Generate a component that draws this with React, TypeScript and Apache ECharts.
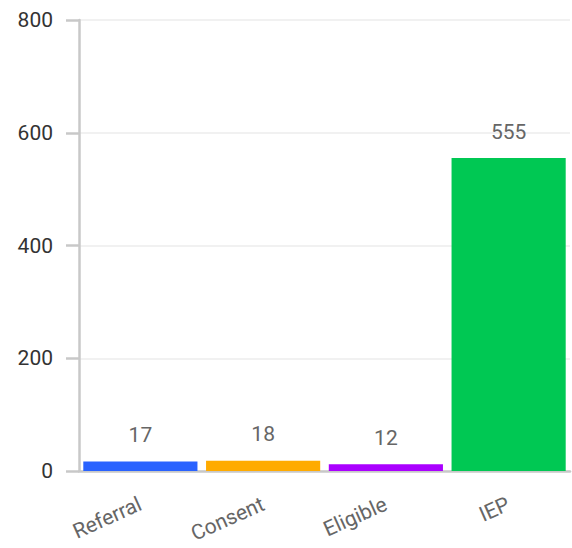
import React, { useEffect, useRef } from "react";
import * as echarts from "echarts";

const categories = ["Referral", "Consent", "Eligible", "IEP"];
const values = [17, 18, 12, 555];
const colors = ["#2962ff", "#ffab00", "#aa00ff", "#00c853"];
const yTicks = [0, 200, 400, 600, 800];

export default function App() {
  const ref = useRef<HTMLDivElement>(null);
  useEffect(() => {
    if (!ref.current) return;
    const chart = echarts.init(ref.current, undefined, { renderer: "svg" });
    chart.setOption({
      animation: false,
      grid: {
        left: 79,
        right: 2,
        top: 20,
        bottom: 77,
        containLabel: false,
        outerBoundsMode: "none",
      },
      xAxis: {
        type: "category",
        data: categories,
        axisLine: { show: true, lineStyle: { color: "#c8c8c8", width: 2.5 } },
        axisTick: { show: false },
        axisLabel: {
          rotate: 24,
          color: "#666666",
          fontSize: 21,
          fontFamily: "Roboto",
          margin: 32,
          verticalAlign: "middle",
        },
      },
      yAxis: {
        type: "value",
        min: yTicks[0],
        max: yTicks[yTicks.length - 1],
        interval: 200,
        axisLine: { show: true, lineStyle: { color: "#c8c8c8", width: 2.5 } },
        axisTick: { show: true, length: 13, lineStyle: { color: "#c8c8c8", width: 2.5 } },
        axisLabel: {
          color: "#333333",
          fontSize: 21,
          fontFamily: "Roboto",
          margin: 26,
        },
        splitLine: { show: true, lineStyle: { color: "#ececec", width: 1.5 } },
      },
      series: [
        {
          type: "bar",
          data: values.map((v, i) => ({ value: v, itemStyle: { color: colors[i] } })),
          barCategoryGap: "7%",
          label: {
            show: true,
            position: "top",
            distance: 16,
            color: "#666666",
            fontSize: 21,
            fontFamily: "Roboto",
          },
        },
      ],
    });
    return () => chart.dispose();
  }, []);
  return <div ref={ref} style={{ width: 572, height: 548, position: "absolute", left: 0, top: 0 }} />;
}
